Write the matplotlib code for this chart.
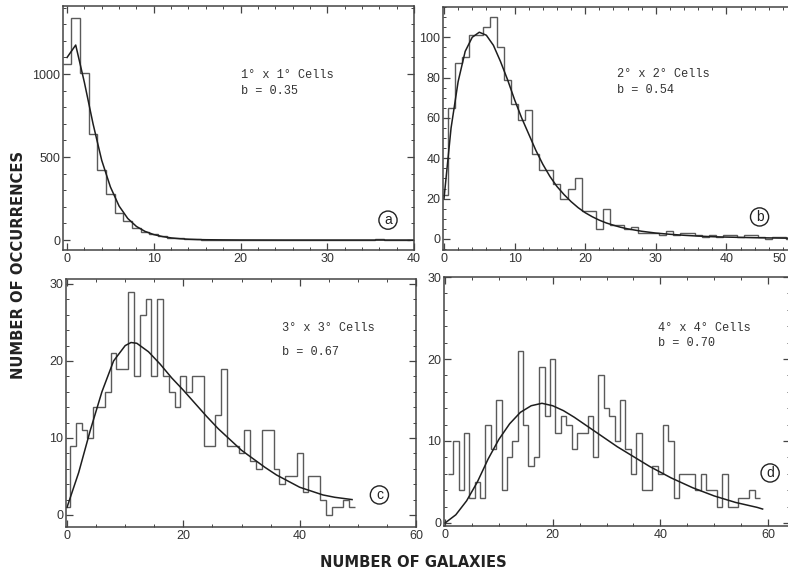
import numpy as np
import matplotlib
matplotlib.use("Agg")
import matplotlib.pyplot as plt
from matplotlib.ticker import MultipleLocator

# panel a: 1x1 deg cells, counts per number of galaxies N (N = 0..39)
n_a = np.arange(0, 40)
hist_a = [1060, 1340, 1005, 640, 420, 275, 165, 115, 70, 50,
          35, 25, 12, 10, 8, 6, 3, 3, 2, 1,
          2, 1, 1, 1, 1, 0, 1, 0, 0, 0,
          1, 1, 0, 2, 1, 3, 4, 2, 1, 0]
curve_a_n = [0, 1, 2, 3, 4, 5, 6, 7, 8, 9, 10, 11, 12, 13, 14, 15, 16, 18, 20, 25, 30, 35, 40]
curve_a_y = [1100, 1175, 950, 700, 480, 320, 205, 130, 82, 52, 33, 21, 13, 8, 5, 3, 2, 1, 0.4, 0, 0, 0, 0]

# panel b: 2x2 deg cells (N = 0..49)
n_b = np.arange(0, 50)
hist_b = [22, 65, 87, 90, 101, 101, 105, 110, 95, 79,
          67, 59, 64, 42, 34, 34, 27, 20, 25, 30,
          14, 14, 5, 15, 7, 7, 5, 6, 3, 3,
          3, 2, 4, 2, 3, 3, 2, 1, 2, 1,
          2, 2, 1, 2, 2, 1, 0, 1, 1, 0]
curve_b_n = [0, 1, 2, 3, 4, 5, 6, 7, 8, 9, 10, 11, 12, 13, 14, 15, 16, 17, 18, 19,
             20, 21, 22, 23, 24, 25, 26, 28, 30, 32, 34, 36, 38, 40, 44, 48, 50]
curve_b_y = [20, 55, 78, 93, 100, 102.5, 101, 96, 88, 79, 69, 60, 52, 44, 37, 31, 26, 22, 18.5, 15.5,
             13, 11, 9.3, 7.9, 6.8, 5.8, 5.0, 3.8, 2.9, 2.3, 1.8, 1.4, 1.1, 0.9, 0.6, 0.4, 0.3]

# panel c: 3x3 deg cells (N = 0..49)
n_c = np.arange(0, 50)
hist_c = [1, 9, 12, 11, 10, 14, 14, 16, 21, 19,
          19, 29, 18, 26, 28, 18, 28, 18, 16, 14,
          18, 16, 18, 18, 9, 9, 13, 19, 9, 9,
          8, 11, 7, 6, 11, 11, 6, 4, 5, 5,
          8, 3, 5, 5, 2, 0, 1, 1, 2, 1]
curve_c_n = [0, 2, 4, 5, 6, 8, 10, 11, 12, 14, 16, 18, 20, 22, 24, 26, 28, 30,
             32, 34, 36, 38, 40, 42, 44, 46, 48, 49]
curve_c_y = [1, 5.5, 11, 13.5, 16, 20, 22, 22.4, 22.3, 21.2, 19.6, 17.8, 16.2, 14.5, 12.8, 11.2, 9.8, 8.4,
             7.3, 6.2, 5.2, 4.4, 3.6, 3.1, 2.6, 2.3, 2.1, 2.0]

# panel d: 4x4 deg cells (N = 1..58)
n_d = np.arange(1, 59)
hist_d = [6, 10, 4, 11, 3, 5, 3, 12, 9, 15,
          4, 8, 10, 21, 12, 7, 8, 19, 13, 20,
          11, 13, 12, 9, 11, 11, 13, 8, 18, 14,
          13, 10, 15, 9, 6, 11, 4, 4, 7, 6,
          12, 10, 3, 6, 6, 6, 4, 6, 4, 4,
          2, 6, 2, 2, 3, 3, 4, 3]
curve_d_n = [0, 2, 4, 6, 8, 10, 12, 14, 16, 18, 20, 22, 24, 26, 28, 30, 32, 34, 36, 38,
             40, 42, 44, 46, 48, 50, 52, 54, 56, 58, 59]
curve_d_y = [0, 1.0, 2.7, 5.0, 7.8, 10.2, 12.1, 13.5, 14.3, 14.6, 14.3, 13.7, 12.9, 12.0, 11.1, 10.2, 9.3,
             8.5, 7.7, 6.9, 6.2, 5.5, 4.9, 4.3, 3.8, 3.3, 2.9, 2.5, 2.2, 1.9, 1.7]

cell_labels = ["1\u00b0 x 1\u00b0 Cells", "2\u00b0 x 2\u00b0 Cells", "3\u00b0 x 3\u00b0 Cells", "4\u00b0 x 4\u00b0 Cells"]
b_labels = ["b = 0.35", "b = 0.54", "b = 0.67", "b = 0.70"]
panel_letters = ["a", "b", "c", "d"]

plt.rcParams['font.family'] = ['Liberation Sans', 'DejaVu Sans']

fig = plt.figure(figsize=(7.88, 5.75), dpi=100)

# axes rectangles (figure fractions) and limits per panel
rects = [[0.0800, 0.5652, 0.4454, 0.4243],
         [0.5622, 0.5652, 0.4492, 0.4226],
         [0.0838, 0.0835, 0.4442, 0.4313],
         [0.5635, 0.0852, 0.4391, 0.4330]]
xlims = [(-0.46, 40), (-0.14, 50), (-0.17, 60), (-0.19, 64.1)]
ylims = [(-60, 1410), (-5.5, 115), (-1.56, 30.65), (-0.37, 30)]
xmaj = [10, 10, 20, 20]
xmin = [2, 2, 5, 5]
ymaj = [500, 20, 10, 10]
ymin = [100, 5, 2, 2]
text_xy = [(20, 994, 898), (24.5, 81.8, 73.9), (37, 24.3, 21.2), (39.6, 23.8, 21.95)]
letter_xy = [(37.0, 120), (44.7, 10.9), (53.7, 2.6), (60.4, 6.1)]

hists = [(n_a, hist_a), (n_b, hist_b), (n_c, hist_c), (n_d, hist_d)]
curves = [(curve_a_n, curve_a_y), (curve_b_n, curve_b_y), (curve_c_n, curve_c_y), (curve_d_n, curve_d_y)]

for i in range(4):
    ax = fig.add_axes(rects[i])
    n, h = hists[i]
    edges = np.append(n - 0.5, n[-1] + 0.5)
    ax.stairs(h, edges, baseline=None, color="#5a5a5a", lw=1.0)
    cx, cy = curves[i]
    ax.plot(cx, cy, color="#1e1e1e", lw=1.1)

    ax.set_xlim(*xlims[i])
    ax.set_ylim(*ylims[i])
    ax.xaxis.set_major_locator(MultipleLocator(xmaj[i]))
    ax.xaxis.set_minor_locator(MultipleLocator(xmin[i]))
    ax.yaxis.set_major_locator(MultipleLocator(ymaj[i]))
    ax.yaxis.set_minor_locator(MultipleLocator(ymin[i]))
    ax.tick_params(which="both", direction="in", top=True, right=True, color="#444444",
                   labelsize=9, labelcolor="#333333", pad=2)
    ax.tick_params(which="major", length=5, width=0.9)
    ax.tick_params(which="minor", length=2.5, width=0.7)
    for sp in ax.spines.values():
        sp.set_color("#444444")
        sp.set_linewidth(1.1)

    tx, ty1, ty2 = text_xy[i]
    ax.text(tx, ty1, cell_labels[i], family=["Liberation Mono", "DejaVu Sans Mono"],
            fontsize=8.6, color="#333333", va="center")
    ax.text(tx, ty2, b_labels[i], family=["Liberation Mono", "DejaVu Sans Mono"],
            fontsize=8.6, color="#333333", va="center")
    lx, ly = letter_xy[i]
    ax.text(lx, ly, panel_letters[i], fontsize=10, color="#222222", ha="center", va="center",
            bbox=dict(boxstyle="circle,pad=0.15", fc="white", ec="#222222", lw=1.0))

    # panel b: the "50" tick sits at the page edge, so its label is drawn by hand inside the page
    if i == 1:
        ticks_b = np.arange(0, 51, 10)
        ax.set_xticks(ticks_b, [str(t) for t in ticks_b[:-1]] + [""])

fig.text(0.998, 0.5604, "50", ha="right", va="top", fontsize=9, color="#333333")

fig.text(0.023, 0.539, "NUMBER OF OCCURRENCES", rotation=90, ha="center", va="center",
         family=["DejaVu Sans"], fontweight="bold", fontsize=10.6, color="#222222")
fig.text(0.525, 0.022, "NUMBER OF GALAXIES", ha="center", va="center",
         family=["DejaVu Sans"], fontweight="bold", fontsize=10.6, color="#222222")

fig.savefig("out.png", dpi=100)
